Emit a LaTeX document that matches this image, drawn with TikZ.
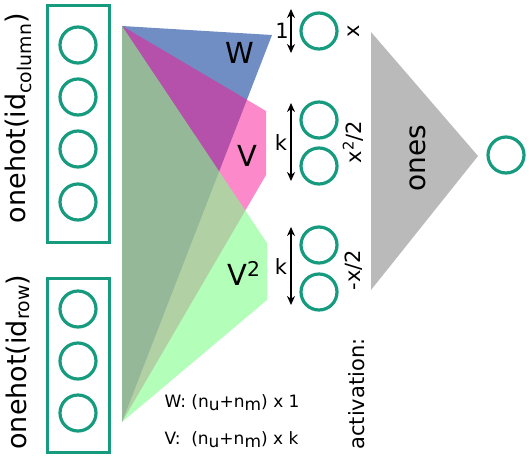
\documentclass[tikz,border=0pt]{standalone}
\usepackage{fontspec}
\setmainfont{DejaVu Sans}
\usepackage{tikz}
\usetikzlibrary{arrows.meta}
\definecolor{teal}{RGB}{22,155,127}
\definecolor{wblue}{RGB}{35,80,165}
\definecolor{vpink}{RGB}{250,20,147}
\definecolor{vgreen}{RGB}{128,255,140}
\newcommand{\lowsub}[1]{\raisebox{-0.35ex}{#1}}

\begin{document}
\begin{tikzpicture}[x=1pt,y=-1pt,
	neuron/.style={circle, draw=teal, line width=3.2pt, inner sep=0pt, minimum size=36pt},
	inbox/.style={draw=teal, line width=3pt, inner sep=0pt, minimum width=62pt},
	dimarrow/.style={{Stealth[length=9pt,width=8pt]}-{Stealth[length=9pt,width=8pt]}, line width=1.6pt}]
			\useasboundingbox (0,0) rectangle (529,461);
			% input boxes
			\node (colbox) at (78.5,124) [inbox, minimum height=237pt] {};
			\node (rowbox) at (78.5,365) [inbox, minimum height=174pt] {};
			\node (1) at (78,45) [neuron] {};
			\node (2) at (78,97) [neuron] {};
			\node (3) at (78,149) [neuron] {};
			\node (4) at (78,202) [neuron] {};
			\node (5) at (78,309) [neuron] {};
			\node (6) at (78,361) [neuron] {};
			\node (7) at (78,413) [neuron] {};
			\node (collabel) at (18,118) [rotate=90, font=\fontsize{27}{30}\selectfont] {onehot(id\textsubscript{column})};
			\node (rowlabel) at (18,362) [rotate=90, font=\fontsize{27}{30}\selectfont] {onehot(id\textsubscript{row})};
			
			% weights
			\coordinate (ta) at (122,26);
			\coordinate (ba) at (122,422);
			\fill[wblue, opacity=0.65] (ta) -- (272,35) -- (ba) -- cycle;
			\fill[vpink, opacity=0.5] (ta) -- (266,111) -- (266,175) -- (ba) -- cycle;
			\fill[vgreen, opacity=0.6] (ta) -- (267,243) -- (267,300) -- (ba) -- cycle;
			\node (W) at (240,53) [font=\fontsize{29}{32}\selectfont] {W};
			\node (V) at (247,156) [font=\fontsize{29}{32}\selectfont] {V};
			\node (V2) at (244,273) [font=\fontsize{29}{32}\selectfont] {V\textsuperscript{2}};
			
			% hidden units
			\node (8) at (319,31) [neuron] {};
			\node (9) at (319,120) [neuron] {};
			\node (10) at (319,166) [neuron] {};
			\node (11) at (319,245) [neuron] {};
			\node (12) at (319,292) [neuron] {};
			\coordinate (a1) at (291,9);
			\coordinate (a2) at (291,53);
			\coordinate (a3) at (291,103);
			\coordinate (a4) at (291,181);
			\coordinate (a5) at (291,227);
			\coordinate (a6) at (291,305);
			\draw[dimarrow] (a1)--(a2);
			\draw[dimarrow] (a3)--(a4);
			\draw[dimarrow] (a5)--(a6);
			\node (one) at (282,31) [font=\fontsize{21}{24}\selectfont] {1};
			\node (k1) at (281,143) [font=\fontsize{21}{24}\selectfont] {k};
			\node (k2) at (281,267) [font=\fontsize{21}{24}\selectfont] {k};
			\node (act1) at (354,31) [rotate=90, font=\fontsize{21}{24}\selectfont] {x};
			\node (act2) at (353,142) [rotate=90, font=\fontsize{21}{24}\selectfont] {x\textsuperscript{2}/2};
			\node (act3) at (354,270) [rotate=90, font=\fontsize{21}{24}\selectfont] {-x/2};
			\node (actlabel) at (357,394) [rotate=90, font=\fontsize{21}{24}\selectfont] {activation:};
			
			% output
			\fill[black!27] (371,32) -- (478,156) -- (371,290) -- cycle;
			\node (ones) at (418,158) [rotate=90, font=\fontsize{28}{31}\selectfont] {ones};
			\node (13) at (506,155) [neuron] {};
			
			% shapes
			\node (wdim) at (161,403) [anchor=west, font=\fontsize{17}{19}\selectfont] {W: (n\lowsub{u}+n\lowsub{m}) x 1};
			\node (vdim) at (161,440) [anchor=west, font=\fontsize{17}{19}\selectfont] {V:\ \ (n\lowsub{u}+n\lowsub{m}) x k};
		\end{tikzpicture}
\end{document}
